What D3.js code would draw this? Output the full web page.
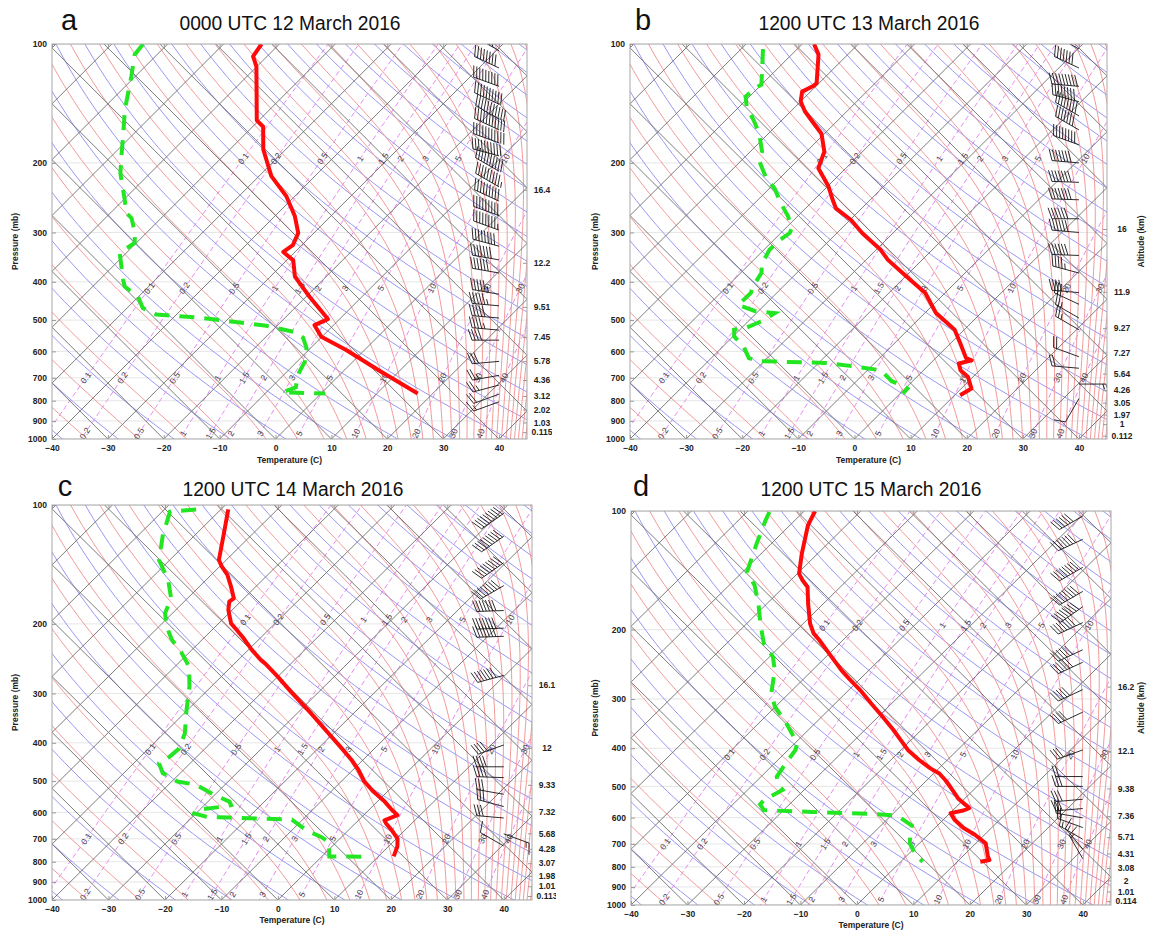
<!DOCTYPE html>
<html>
<head>
<meta charset="utf-8">
<script src="https://cdn.jsdelivr.net/npm/d3@7"></script>
<style>
  body { margin: 0; background: #fff; }
  text { font-family: "Liberation Sans", Arial, sans-serif; }
</style>
</head>
<body>
<svg id="fig" width="1150" height="934"></svg>
<script>
// ---------------- soundings: temperature (°C) and dew point (°C) vs pressure (mb) -------------
const titles  = ["0000 UTC 12 March 2016", "1200 UTC 13 March 2016", "1200 UTC 14 March 2016", "1200 UTC 15 March 2016"];
const letters = ["a", "b", "c", "d"];

const presA = [100, 107.5, 114, 156, 162, 185, 216, 243, 273, 301, 323, 336, 353, 388, 437, 497, 515, 551, 595, 672, 767];
const tempA = [-73.2, -72.5, -70.1, -60.4, -58.1, -54.0, -47.8, -41.5, -36.4, -32.8, -31.6, -32.1, -28.8, -25.6, -19.3, -12.1, -13.4, -10.1, -3.3, 6.4, 17.3];
const dewPresA = [100, 106.4, 120.8, 146.7, 171.6, 193, 212.6, 248, 268, 276, 301, 319, 338, 396, 411, 437, 466, 484, 493, 517, 537, 554, 589, 637, 688, 740, 762, 767];
const dewA = [-94.4, -94.0, -90.7, -85.9, -81.4, -78.1, -75.3, -69.8, -67.1, -65.3, -62.0, -60.3, -61.2, -55.7, -54.3, -50.0, -47.2, -43.6, -35.3, -21.9, -15.4, -13.2, -10.7, -8.6, -7.5, -5.6, -7.1, 0.7];

const presB = [100, 106.4, 125.8, 127.5, 132, 139.8, 148, 158.7, 168.8, 187.3, 206.3, 229.6, 248, 260.6, 279, 301, 332, 352, 388, 427, 480, 529, 572, 624, 632, 644, 670, 697, 745, 775];
const tempB = [-77.9, -75.2, -70.4, -70.5, -71.5, -70.0, -67.5, -63.8, -60.5, -56.8, -54.9, -49.8, -46.7, -44.6, -39.8, -35.5, -29.2, -26.1, -19.8, -13.5, -8.0, -1.7, 1.7, 5.4, 6.8, 5.1, 6.6, 9.15, 11.8, 11.0];
const dewPresB = [103, 114, 126.8, 129, 135.8, 144.5, 156, 168.8, 187.3, 197, 216.6, 233, 252, 273, 292.6, 301, 313, 332, 359, 380, 411, 427, 458, 474, 480, 503, 522, 529, 550, 582, 624, 635, 642, 657, 670, 714, 737, 745, 767];
const dewB = [-86.1, -83.1, -80.0, -80.4, -80.7, -78.6, -75.0, -71.6, -67.9, -66.9, -62.8, -58.9, -55.5, -51.7, -48.9, -48.4, -48.9, -49.0, -47.9, -46.3, -45.4, -44.6, -44.7, -40.7, -36.7, -37.6, -39.1, -41.0, -39.8, -36.4, -33.3, -31.1, -18.8, -12.2, -7.6, -3.7, -0.4, 0.4, 0.5];

const presC = [102.6, 117.9, 137.8, 143.2, 150.4, 160.9, 172.3, 175.7, 184.3, 199.4, 207.3, 217.5, 232.6, 246.3, 253.5, 271.5, 299.4, 336.6, 371.1, 409.1, 442.1, 468.6, 501.1, 531.4, 563.5, 591.8, 609.8, 628.3, 641.1, 667.4, 699.1, 732.4, 775.5];
const tempC = [-78.7, -75.2, -71.3, -69.6, -67.1, -64.4, -61.8, -62.0, -60.7, -57.8, -55.6, -52.9, -49.4, -46.1, -44.2, -40.1, -34.5, -27.6, -22.0, -16.4, -12.0, -9.0, -5.9, -2.5, 1.3, 4.1, 6.0, 4.6, 5.55, 7.8, 10.2, 11.6, 12.7];
const dewPresC = [102.6, 104, 119.1, 137.8, 154.9, 172.3, 188, 203.3, 219.6, 235.2, 256.5, 287.8, 330.2, 378.6, 413.5, 432.3, 450.8, 477.4, 501.1, 510.9, 541.7, 563.5, 574.8, 580.6, 592.3, 604, 616.1, 618.5, 622.2, 625.9, 667.4, 693.4, 713.8, 775.5, 775.5, 778.6];
const dewC = [-84.4, -88.6, -85.7, -81.9, -76.7, -72.9, -71.3, -68.6, -65.3, -61.6, -57.5, -53.9, -50.2, -46.3, -44.6, -44.8, -45.5, -43.1, -39.0, -35.1, -30.1, -26.2, -25.3, -26.6, -30.6, -30.3, -27.4, -23.4, -17.9, -11.9, -7.3, -3.5, -1.3, 1.3, 4.5, 8.6];

const presD = [100, 108.7, 128.3, 144.2, 149.9, 155.9, 171.9, 193, 204.5, 212.6, 225.4, 239, 253.4, 266, 284.7, 307.6, 332.4, 359.1, 380.9, 404, 428.5, 450, 463.6, 482.4, 501.9, 536.3, 562.5, 567.9, 575.6, 584.5, 607.7, 637.9, 663.3, 697.4, 753.2, 768.8, 776.7];
const tempD = [-78.1, -76.8, -72.8, -69.7, -67.9, -65.8, -62.7, -58.8, -56.4, -54.2, -51.1, -48.0, -44.9, -42.1, -38.0, -33.7, -29.3, -25.0, -21.9, -18.8, -15.0, -11.5, -9.0, -6.7, -4.6, -1.2, 1.9, 2.5, 1.9, 0.1, 2.0, 5.1, 8.3, 11.75, 14.5, 15.4, 14.1];
const dewPresD = [100.6, 105.6, 121, 142.9, 154.3, 171.9, 193, 216.9, 234.5, 253.4, 290.6, 313.8, 345.9, 388.4, 404, 437.1, 472.7, 496.3, 510.4, 541.4, 555.5, 574.4, 576.9, 580.6, 587, 593.4, 628.8, 664.9, 697.4, 745.7, 776.7];
const dewD = [-86.0, -85.2, -82.6, -79.2, -75.5, -71.5, -67.6, -63.4, -59.4, -56.7, -53.1, -50.1, -45.1, -39.6, -38.7, -38.0, -37.2, -35.4, -33.8, -35.3, -35.2, -33.5, -30.1, -24.6, -13.85, -8.9, -4.5, -3.1, -1.7, 1.4, 3.9];

// ---------------- winds: pressure (mb), direction (deg), speed (kt) ----------------
const barbPresA = [104, 115, 128, 142, 155, 165, 178, 192, 210, 230, 250, 272, 296, 325, 352, 380, 430, 460, 494, 530, 562, 636, 690, 730, 770, 805];
const barbDirA  = [300, 295, 290, 295, 300, 295, 290, 285, 300, 300, 295, 290, 290, 285, 280, 280, 280, 275, 275, 275, 270, 265, 260, 255, 250, 250];
const barbSpdA  = [70, 80, 90, 100, 110, 110, 110, 100, 100, 95, 90, 90, 85, 80, 70, 60, 55, 55, 50, 45, 40, 30, 25, 25, 20, 15];

const barbPresB = [103, 115, 128, 140, 152, 165, 180, 200, 224, 248, 277, 300, 343, 380, 426, 456, 494, 529, 619, 662, 726, 790];
const barbDirB  = [300, 295, 275, 285, 300, 300, 290, 275, 272, 272, 270, 275, 272, 285, 275, 295, 300, 300, 290, 275, 90, 210];
const barbSpdB  = [60, 70, 90, 80, 80, 70, 80, 70, 70, 70, 60, 60, 60, 45, 40, 30, 25, 25, 20, 20, 15, 10];

const barbPresC = [105, 120, 140, 160, 185, 205, 215, 270, 405, 460, 490, 540, 580, 620, 680, 730];
const barbDirC  = [235, 235, 235, 240, 268, 268, 268, 255, 250, 270, 272, 280, 285, 275, 110, 300];
const barbSpdC  = [90, 90, 90, 80, 70, 70, 70, 70, 40, 40, 40, 30, 30, 30, 15, 10];

const barbPresD = [103, 118, 139, 160, 175, 192, 225, 242, 284, 324, 404, 472, 500, 539, 569, 601, 636, 681, 721, 763];
const barbDirD  = [240, 245, 240, 240, 235, 245, 245, 245, 245, 245, 250, 270, 270, 265, 265, 280, 290, 300, 320, 330];
const barbSpdD  = [60, 70, 80, 80, 80, 70, 60, 60, 50, 40, 30, 20, 30, 30, 30, 20, 20, 15, 15, 15];

// ---------------- altitude (km) labels on the right axis, placed at pressure (mb) ---------------
const altA = ["16.4", "12.2", "9.51", "7.45", "5.78", "4.36", "3.12", "2.02", "1.03", "0.115"];
const altPresA = [234, 358, 463, 552, 635, 709, 778, 842, 908, 961];
const altB = ["16", "11.9", "9.27", "7.27", "5.64", "4.26", "3.05", "1.97", "1", "0.112"];
const altPresB = [294, 424, 524, 604, 683, 752, 809, 867, 917, 981];
const altC = ["16.1", "12", "9.33", "7.32", "5.68", "4.28", "3.07", "1.98", "1.01", "0.113"];
const altPresC = [286, 412, 511, 597, 678, 742, 807, 869, 923, 977];
const altD = ["16.2", "12.1", "9.38", "7.36", "5.71", "4.31", "3.08", "2", "1.01", "0.114"];
const altPresD = [279, 407, 506, 595, 673, 740, 805, 866, 924, 978];

// ---------------- axis ticks and chart furniture values ----------------
const tempTicks = [-40, -30, -20, -10, 0, 10, 20, 30, 40];
const presTicks = [100, 200, 300, 400, 500, 600, 700, 800, 900, 1000];
const mixRatios = [0.1, 0.2, 0.5, 1, 1.5, 2, 3, 5, 10, 20, 30, 40];
const mixLabelRows = [195, 415, 700, 968];

// ---------------- panel placement ----------------
const layout = [
  { x0: 52,  x1: 527,  y0: 44,  y1: 439, letterX: 69,  titleX: 290, titleY: 30,  yLabX: 18,  xLabY: 463, altTitle: false, clipW: 552 },
  { x0: 630, x1: 1107, y0: 44,  y1: 439, letterX: 643, titleX: 869, titleY: 30,  yLabX: 598, xLabY: 463, altTitle: true,  clipW: 1150 },
  { x0: 52,  x1: 532,  y0: 505, y1: 900, letterX: 65,  titleX: 293, titleY: 496, yLabX: 18,  xLabY: 923, altTitle: false, clipW: 556 },
  { x0: 631, x1: 1111, y0: 511, y1: 905, letterX: 641, titleX: 871, titleY: 496, yLabX: 598, xLabY: 928, altTitle: true,  clipW: 1150 }
];

const soundings = [
  { pres: presA, temp: tempA, dewPres: dewPresA, dew: dewA, bp: barbPresA, bd: barbDirA, bs: barbSpdA, alt: altA, altPres: altPresA },
  { pres: presB, temp: tempB, dewPres: dewPresB, dew: dewB, bp: barbPresB, bd: barbDirB, bs: barbSpdB, alt: altB, altPres: altPresB },
  { pres: presC, temp: tempC, dewPres: dewPresC, dew: dewC, bp: barbPresC, bd: barbDirC, bs: barbSpdC, alt: altC, altPres: altPresC },
  { pres: presD, temp: tempD, dewPres: dewPresD, dew: dewD, bp: barbPresD, bd: barbDirD, bs: barbSpdD, alt: altD, altPres: altPresD }
];

// ---------------- thermodynamics for the skew-T background ----------------
const K = 70.7;                                   // skew, °C per decade of pressure
const skew = (T, p) => T + K * Math.log10(1000 / p);
const es = Tc => 6.112 * Math.exp(17.67 * Tc / (Tc + 243.5));
function thetaE(Tc, p) {
  const e = es(Tc);
  if (e > 0.5 * p) return Infinity;
  const Tk = Tc + 273.15, w = 0.622 * e / (p - e);
  return Tk * Math.pow(1000 / p, 0.2857) * Math.exp(2.5e6 * w / (1004 * Tk));
}
function tempOnThetaE(te, p) {
  let lo = -130, hi = 60;
  for (let i = 0; i < 40; i++) {
    const m = (lo + hi) / 2;
    if (thetaE(m, p) < te) lo = m; else hi = m;
  }
  return (lo + hi) / 2;
}
function dewFromMix(w, p) {
  const e = w * p / (622 + w), l = Math.log(e / 6.112);
  return 243.5 * l / (17.67 - l);
}
const levels = d3.range(0, 71).map(i => 1060 * Math.pow(95 / 1060, i / 70));

const svg = d3.select("#fig");
const defs = svg.append("defs");

function drawBarb(g, sx, sy, dir, spd) {
  const L = 27, F = 11, gap = 3.2;
  const r = dir * Math.PI / 180, ux = Math.sin(r), uy = -Math.cos(r);
  const tx = sx + ux * L, ty = sy + uy * L;
  const nx = -uy, ny = ux;
  let path = `M${sx},${sy}L${tx},${ty}`;
  const full = Math.floor(spd / 10), half = (spd % 10) >= 5;
  for (let k = 0; k < full; k++) {
    const bx = tx - ux * k * gap, by = ty - uy * k * gap;
    path += `M${bx},${by}L${bx + nx * F + ux * F * 0.35},${by + ny * F + uy * F * 0.35}`;
  }
  if (half) {
    const bx = tx - ux * full * gap, by = ty - uy * full * gap;
    path += `M${bx},${by}L${bx + nx * F * 0.5 + ux * F * 0.18},${by + ny * F * 0.5 + uy * F * 0.18}`;
  }
  g.append("path").attr("d", path).attr("fill", "none").attr("stroke", "#151515").attr("stroke-width", 0.9);
}

soundings.forEach((s, i) => {
  const Lo = layout[i];
  const xs = d3.scaleLinear().domain([-40, 45]).range([Lo.x0, Lo.x1]);
  const ys = d3.scaleLog().domain([100, 1000]).range([Lo.y0, Lo.y1]);
  const px = (T, p) => xs(skew(T, p));
  const lineTP = d3.line().x(d => px(d[0], d[1])).y(d => ys(d[1]));

  defs.append("clipPath").attr("id", "plot" + i).append("rect")
    .attr("x", Lo.x0).attr("y", Lo.y0).attr("width", Lo.x1 - Lo.x0).attr("height", Lo.y1 - Lo.y0);
  defs.append("clipPath").attr("id", "pane" + i).append("rect")
    .attr("x", i % 2 ? 575 : 0).attr("y", 0).attr("width", Lo.clipW - (i % 2 ? 575 : 0)).attr("height", 934);

  const pane = svg.append("g").attr("clip-path", `url(#pane${i})`);
  const plot = pane.append("g").attr("clip-path", `url(#plot${i})`);

  // isobar grid
  plot.selectAll(".iso").data(presTicks).join("line")
    .attr("x1", Lo.x0).attr("x2", Lo.x1).attr("y1", d => ys(d)).attr("y2", d => ys(d))
    .attr("stroke", "#e6e6e6").attr("stroke-width", 1);

  // mixing ratio lines
  plot.selectAll(".mix").data(mixRatios).join("path")
    .attr("d", w => lineTP(levels.map(p => [dewFromMix(w, p), p])))
    .attr("fill", "none").attr("stroke", "#e68af2").attr("stroke-width", 1).attr("stroke-dasharray", "5,3");

  // dry adiabats
  plot.selectAll(".dry").data(d3.range(135, 500, 10)).join("path")
    .attr("d", th => lineTP(levels.map(p => [th * Math.pow(p / 1000, 0.2857) - 273.15, p])))
    .attr("fill", "none").attr("stroke", "#9898f4").attr("stroke-width", 1);

  // saturated (equivalent potential temperature) adiabats
  plot.selectAll(".moist").data(d3.range(200, 560, 10)).join("path")
    .attr("d", te => lineTP(levels.map(p => [tempOnThetaE(te, p), p])))
    .attr("fill", "none").attr("stroke", "#f39a9a").attr("stroke-width", 1);

  // isotherms and the crossing diagonal set
  plot.selectAll(".isoT").data(d3.range(-120, 51, 10)).join("path")
    .attr("d", T => lineTP([[T, 1060], [T, 95]]))
    .attr("stroke", "#6e6e6e").attr("stroke-width", 0.9);
  plot.selectAll(".diag").data(d3.range(-40, 130, 10)).join("line")
    .attr("x1", c => xs(c)).attr("y1", ys(1000))
    .attr("x2", c => xs(c - K)).attr("y2", ys(100))
    .attr("stroke", "#6e6e6e").attr("stroke-width", 0.9);

  // mixing ratio labels
  mixLabelRows.forEach(pl => {
    mixRatios.forEach(w => {
      const x = px(dewFromMix(w, pl), pl), y = ys(pl);
      if (x < Lo.x0 + 4 || x > Lo.x1 - 4) return;
      const xa = px(dewFromMix(w, pl * 1.04), pl * 1.04), ya = ys(pl * 1.04);
      const xb = px(dewFromMix(w, pl / 1.04), pl / 1.04), yb = ys(pl / 1.04);
      const ang = Math.atan2(yb - ya, xb - xa) * 180 / Math.PI;
      plot.append("text").attr("transform", `translate(${x},${y}) rotate(${ang})`)
        .attr("text-anchor", "middle").attr("dy", "0.35em")
        .attr("font-size", 8.5).attr("fill", "#444").text(w);
    });
  });

  // wind barbs
  const bg = plot.append("g");
  s.bp.forEach((p, k) => drawBarb(bg, xs(40), ys(p), s.bd[k], s.bs[k]));

  // temperature and dew point
  plot.append("path").datum(s.pres.map((p, k) => [s.temp[k], p]))
    .attr("d", lineTP).attr("fill", "none").attr("stroke", "#ff0a0a")
    .attr("stroke-width", 4).attr("stroke-linejoin", "round");
  plot.append("path").datum(s.dewPres.map((p, k) => [s.dew[k], p]))
    .attr("d", lineTP).attr("fill", "none").attr("stroke", "#22e622")
    .attr("stroke-width", 4).attr("stroke-dasharray", "15,10");

  // frame and axes
  pane.append("rect").attr("x", Lo.x0).attr("y", Lo.y0).attr("width", Lo.x1 - Lo.x0).attr("height", Lo.y1 - Lo.y0)
    .attr("fill", "none").attr("stroke", "#a8a8a8").attr("stroke-width", 1);

  const axB = pane.append("g").attr("transform", `translate(0,${Lo.y1})`)
    .call(d3.axisBottom(xs).tickValues(tempTicks).tickSize(-4).tickPadding(6).tickFormat(d3.format("d")));
  const axT = pane.append("g").attr("transform", `translate(0,${Lo.y0})`)
    .call(d3.axisTop(xs).tickValues(tempTicks).tickSize(-4).tickFormat(""));
  const axL = pane.append("g").attr("transform", `translate(${Lo.x0},0)`)
    .call(d3.axisLeft(ys).tickValues(presTicks).tickSize(-4).tickPadding(5).tickFormat(d3.format("d")));
  const axR = pane.append("g").attr("transform", `translate(${Lo.x1},0)`)
    .call(d3.axisRight(ys).tickValues(s.altPres).tickSize(-4).tickPadding(6).tickFormat((d, k) => s.alt[k]));
  [axB, axT, axL, axR].forEach(a => {
    a.select(".domain").remove();
    a.selectAll(".tick line").attr("stroke", "#9a9a9a");
    a.selectAll(".tick text").attr("font-family", "Liberation Sans, Arial, sans-serif")
      .attr("font-size", 8.5).attr("font-weight", "bold").attr("fill", "#222");
  });
  axR.selectAll(".tick text").attr("text-anchor", "middle").attr("x", 15);

  // titles and axis names
  pane.append("text").attr("x", Lo.letterX).attr("y", Lo.titleY).attr("text-anchor", "middle")
    .attr("font-family", "Open Sans, sans-serif").attr("font-size", 29).attr("fill", "#111").text(letters[i]);
  pane.append("text").attr("x", Lo.titleX).attr("y", Lo.titleY).attr("text-anchor", "middle")
    .attr("font-family", "Open Sans, sans-serif").attr("font-size", 19.5)
    .attr("textLength", 221).attr("lengthAdjust", "spacingAndGlyphs").attr("fill", "#111").text(titles[i]);
  pane.append("text").attr("transform", `translate(${Lo.yLabX},${(Lo.y0 + Lo.y1) / 2}) rotate(-90)`)
    .attr("text-anchor", "middle").attr("font-size", 8.5).attr("font-weight", "bold").attr("fill", "#222")
    .text("Pressure (mb)");
  pane.append("text").attr("x", (Lo.x0 + Lo.x1) / 2).attr("y", Lo.xLabY).attr("text-anchor", "middle")
    .attr("font-size", 8.5).attr("font-weight", "bold").attr("fill", "#222").text("Temperature (C)");
  if (Lo.altTitle) {
    pane.append("text").attr("transform", `translate(1144,${(Lo.y0 + Lo.y1) / 2}) rotate(-90)`)
      .attr("text-anchor", "middle").attr("font-size", 8.5).attr("font-weight", "bold").attr("fill", "#222")
      .text("Altitude (km)");
  }
});
</script>
</body>
</html>
